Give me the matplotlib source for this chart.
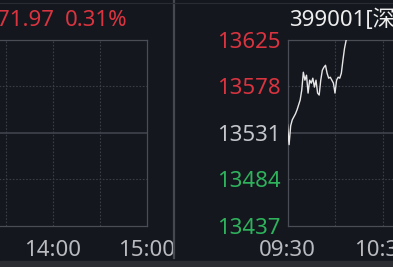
import matplotlib
matplotlib.use("Agg")
import matplotlib.pyplot as plt
from matplotlib.lines import Line2D
from matplotlib.patches import Rectangle

plt.rcParams['font.family'] = ['Noto Sans', 'Noto Sans CJK SC', 'DejaVu Sans']

# --- data ---
# right panel: minutes after 09:30 and index level
minutes = list(range(39))
prices = [13539, 13519, 13538, 13544, 13547, 13550, 13554, 13559, 13564, 13574,
          13592, 13584, 13589, 13571, 13584, 13581, 13586, 13577, 13584, 13571,
          13569, 13584, 13594, 13597, 13599, 13591, 13586, 13587, 13584, 13581,
          13571, 13584, 13587, 13586, 13591, 13604, 13616, 13624, 13634]

y_ticks = [13437, 13484, 13531, 13578, 13625]
y_colors = ['#2eb35c', '#2eb35c', '#c4c6cb', '#d9343f', '#d9343f']

left_xticks = [60, 120]            # minutes after 13:00
left_xlabels = ['14:00', '15:00']
right_xticks = [0, 60]             # minutes after 09:30
right_xlabels = ['09:30', '10:30']

header_price = '71.97'
header_pct = '0.31%'
title = '399001[深证成指]'

BG = '#15171f'
SPINE = '#4a4d55'
GRID = '#3a3d46'
MID = '#40434c'
LABEL = '#b9bbc0'
FS = 16

W, H = 393, 267
fig = plt.figure(figsize=(W / 100, H / 100), dpi=100, facecolor=BG)


def px_axes(x0, y_top, w, h):
    return fig.add_axes([x0 / W, (H - y_top - h) / H, w / W, h / H])


def style(ax, xmax, lo, hi):
    ax.set_facecolor(BG)
    ax.set_xlim(0, xmax)
    ax.set_ylim(lo, hi)
    for s in ax.spines.values():
        s.set_color(SPINE)
        s.set_linewidth(0.9)
    dot = dict(color=GRID, lw=0.8, ls=(0, (1.5, 1.5)), zorder=1)
    for x in range(30, xmax, 30):
        ax.axvline(x, **dot)
    step = (hi - lo) / 4
    ax.axhline(lo + step, **dot)
    ax.axhline(lo + 3 * step, **dot)
    ax.axhline(lo + 2 * step, color=MID, lw=1.2, zorder=1)
    ax.tick_params(length=0, labelsize=FS, colors=LABEL)
    ax.tick_params(axis='x', pad=10)


# left panel (afternoon of another index, empty)
ax1 = px_axes(-40.5, 39.5, 187, 186.5)
style(ax1, 120, 0, 1)
ax1.set_yticks([])
ax1.set_xticks(left_xticks)
ax1.set_xticklabels(left_xlabels)

# right panel
ax2 = px_axes(287.5, 39.5, 380, 186.5)
style(ax2, 240, y_ticks[0], y_ticks[-1])
ax2.set_yticks(y_ticks)
ax2.set_yticklabels([str(v) for v in y_ticks])
for lab, c in zip(ax2.get_yticklabels(), y_colors):
    lab.set_color(c)
ax2.tick_params(axis='y', pad=5)
ax2.set_xticks(right_xticks)
ax2.set_xticklabels(right_xlabels)
ax2.plot(minutes, prices, color='#e6e6e6', lw=1.0, zorder=3)

# header texts
fig.text(-3 / W, 1 - 20 / H, header_price, color='#d9343f', fontsize=FS,
         ha='left', va='center')
fig.text(65 / W, 1 - 20 / H, header_pct, color='#d9343f', fontsize=FS,
         ha='left', va='center')
fig.text(289 / W, 1 - 20 / H, title, color='#eeeeee', fontsize=FS,
         ha='left', va='center')

# divider, top rule and bottom band
fig.add_artist(Line2D([174 / W, 174 / W], [1 - 258 / H, 1], color='#45484f', lw=1.6))
fig.add_artist(Line2D([0, 1], [1 - 2.5 / H, 1 - 2.5 / H], color='#2a2c33', lw=0.8))
fig.add_artist(Rectangle((0, 0), 1, 6 / H, transform=fig.transFigure,
                         color='#2b2d33', zorder=0))

fig.savefig('out.png', dpi=100, facecolor=BG)
